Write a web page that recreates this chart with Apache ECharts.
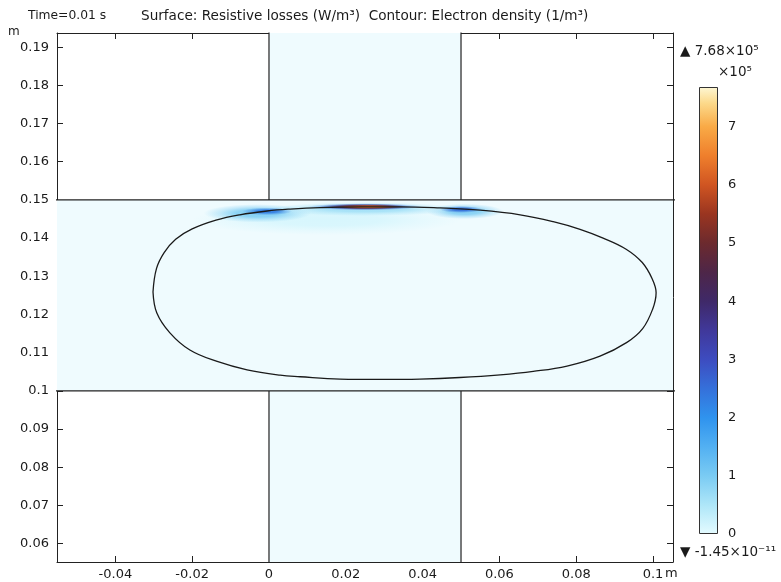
<!DOCTYPE html>
<html><head><meta charset="utf-8">
<script src="https://cdn.jsdelivr.net/npm/echarts@6/dist/echarts.min.js"></script>
<style>html,body{margin:0;padding:0;background:#fff}#c{width:781px;height:582px}</style>
</head><body><div id="c"></div>
<script>
// ---------- data ----------
const xRange = [-0.0552, 0.1052];          // m
const yRange = [0.0552, 0.1937];           // m
const colorRange = [0, 7.68];              // ×10^5 W/m^3
const colorbarTicks = [0, 1, 2, 3, 4, 5, 6, 7];
const maxLabel = '7.68×10⁵';
const minLabel = '-1.45×10⁻¹¹';
const scaleLabel = '×10⁵';
const titleTime = 'Time=0.01 s';
const titleMain = 'Surface: Resistive losses (W/m³)  Contour: Electron density (1/m³)';

// geometry domains [x0, y0, x1, y1]
const domainRects = [
  [-0.06, 0.10, 0.11, 0.15],
  [0.00, 0.05, 0.05, 0.20]
];
// boundary segments
const boundarySegments = [
  [[-0.06, 0.10], [0.11, 0.10]],
  [[-0.06, 0.15], [0.11, 0.15]],
  [[0.00, 0.15], [0.00, 0.20]],
  [[0.05, 0.15], [0.05, 0.20]],
  [[0.00, 0.05], [0.00, 0.10]],
  [[0.05, 0.05], [0.05, 0.10]]
];
// electron density contour
const contourPoints = [
  [-0.0302, 0.1259], [-0.0293, 0.1320], [-0.0273, 0.1362], [-0.0243, 0.1397],
  [-0.0200, 0.1424], [-0.0138, 0.1447], [-0.0076, 0.1461], [-0.0005, 0.1471],
  [0.0055, 0.1476], [0.0133, 0.1480], [0.0237, 0.1482], [0.0341, 0.1482],
  [0.0445, 0.1479], [0.0550, 0.1473], [0.0654, 0.1461], [0.0740, 0.1443],
  [0.0810, 0.1423], [0.0870, 0.1400], [0.0930, 0.1371], [0.0972, 0.1336],
  [0.0998, 0.1293], [0.1008, 0.1257], [0.0999, 0.1214], [0.0973, 0.1163],
  [0.0932, 0.1127], [0.0862, 0.1091], [0.0776, 0.1065], [0.0688, 0.1051],
  [0.0602, 0.1042], [0.0497, 0.1035], [0.0393, 0.1031], [0.0289, 0.1030],
  [0.0185, 0.1031], [0.0081, 0.1037], [0.0029, 0.1041], [-0.0057, 0.1055],
  [-0.0135, 0.1077], [-0.0206, 0.1107], [-0.0258, 0.1152], [-0.0292, 0.1204],
  [-0.0302, 0.1259]
];
// resistive-loss hot spots: [xCenter, yCenter, xHalfWidth, yHalfWidth, peak (×10^5 W/m^3)]
const lossBlobs = [
  [0.015, 0.1448, 0.035, 0.0040, 0.12],
  [-0.003, 0.1465, 0.014, 0.0024, 0.9],
  [0.051, 0.1470, 0.010, 0.0020, 0.9],
  [0.025, 0.1476, 0.025, 0.0018, 0.6],
  [-0.0005, 0.1470, 0.0065, 0.0010, 2.3],
  [0.050, 0.1475, 0.0055, 0.0009, 2.5],
  [0.025, 0.1482, 0.015, 0.0009, 2.5],
  [0.025, 0.1482, 0.012, 0.0008, 4.0],
  [0.0255, 0.1482, 0.010, 0.0006, 5.4],
  [0.026, 0.1482, 0.0075, 0.00045, 6.4]
];
// colour map (value ×10^5 → colour)
const cmapValues = [0, 0.5, 1, 1.5, 2, 2.5, 3, 3.5, 4, 4.5, 5, 5.5, 6, 6.5, 7, 7.4, 7.68];
const cmapColors = ['#e4fbff', '#aee6f8', '#7acbf3', '#52b0f2', '#2f93ee', '#3570da', '#3d4cc0',
  '#40389a', '#3f2968', '#4e2648', '#6c2a2e', '#9a3520', '#d05522', '#ef7f2c', '#f9aa46', '#fcd98a', '#fdf7d4'];

// ---------- helpers ----------
const FONT = 'DejaVu Sans';
const TXT = '#1a1a1a';
function hex2rgb(h) { const n = parseInt(h.slice(1), 16); return [(n >> 16) & 255, (n >> 8) & 255, n & 255]; }
function cmap(v, a) {
  let i = 0;
  while (i < cmapValues.length - 2 && v > cmapValues[i + 1]) i++;
  const t = Math.max(0, Math.min(1, (v - cmapValues[i]) / (cmapValues[i + 1] - cmapValues[i])));
  const c0 = hex2rgb(cmapColors[i]), c1 = hex2rgb(cmapColors[i + 1]);
  const c = c0.map((c, k) => Math.round(c + (c1[k] - c) * t));
  return 'rgba(' + c.join(',') + ',' + a + ')';
}
const gradStops = cmapValues.map((v, i) => ({ offset: v / colorRange[1], color: cmapColors[i] }));

const axisLineStyle = { color: '#222', width: 1 };
function mainX(pos, showLabel) {
  return {
    type: 'value', gridIndex: 0, position: pos, min: xRange[0], max: xRange[1], splitNumber: 8,
    axisLine: { show: true, onZero: false, lineStyle: axisLineStyle },
    axisTick: { show: true, inside: true, length: 6, lineStyle: axisLineStyle },
    axisLabel: { show: showLabel, showMinLabel: false, showMaxLabel: false, margin: 6,
      color: TXT, fontFamily: FONT, fontSize: 13 },
    splitLine: { show: false }
  };
}
function mainY(pos, showLabel) {
  return {
    type: 'value', gridIndex: 0, position: pos, min: yRange[0], max: yRange[1], splitNumber: 14,
    axisLine: { show: true, onZero: false, lineStyle: axisLineStyle },
    axisTick: { show: true, inside: true, length: 6, lineStyle: axisLineStyle },
    axisLabel: { show: showLabel, showMinLabel: false, showMaxLabel: false, margin: 8,
      color: TXT, fontFamily: FONT, fontSize: 13 },
    splitLine: { show: false }
  };
}

const series = [];
series.push({
  type: 'custom', xAxisIndex: 0, yAxisIndex: 0, clip: true, z: 1, silent: true,
  data: domainRects, encode: { x: [0, 2], y: [1, 3] },
  renderItem: function (params, api) {
    const p0 = api.coord([api.value(0), api.value(3)]);
    const p1 = api.coord([api.value(2), api.value(1)]);
    return { type: 'rect', shape: { x: p0[0], y: p0[1], width: p1[0] - p0[0], height: p1[1] - p0[1] },
      style: { fill: '#effbfe' } };
  }
});
series.push({
  type: 'custom', xAxisIndex: 0, yAxisIndex: 0, clip: true, z: 2, silent: true,
  data: lossBlobs, encode: { x: 0, y: 1 },
  renderItem: function (params, api) {
    const c = api.coord([api.value(0), api.value(1)]);
    const s = api.size([api.value(2), api.value(3)]);
    const v = api.value(4);
    const r = Math.max(s[0], 0.5);
    return {
      type: 'circle', x: c[0], y: c[1], scaleX: 1, scaleY: s[1] / r,
      shape: { cx: 0, cy: 0, r: r },
      style: { fill: { type: 'radial', x: 0.5, y: 0.5, r: 0.5, colorStops: [
        { offset: 0, color: cmap(v, 1) }, { offset: 0.4, color: cmap(v, 0.9) },
        { offset: 0.7, color: cmap(v, 0.4) }, { offset: 1, color: cmap(v, 0) }] } }
    };
  }
});
boundarySegments.forEach(function (seg) {
  series.push({ type: 'line', xAxisIndex: 0, yAxisIndex: 0, data: seg, symbol: 'none', clip: true, z: 3,
    silent: true, lineStyle: { color: '#222', width: 1.2 } });
});
series.push({ type: 'line', xAxisIndex: 0, yAxisIndex: 0, data: contourPoints, symbol: 'none', smooth: 0.4,
  clip: true, z: 4, silent: true, lineStyle: { color: '#1a1a1a', width: 1.3 } });
// colour bar
series.push({ type: 'bar', xAxisIndex: 2, yAxisIndex: 2, data: [colorRange[1]], barWidth: '100%', silent: true,
  itemStyle: { borderColor: '#333', borderWidth: 1,
    color: { type: 'linear', x: 0, y: 1, x2: 0, y2: 0, colorStops: gradStops } } });

const option = {
  animation: false,
  backgroundColor: '#fff',
  grid: [
    { left: 57, top: 33, width: 616, height: 529 },
    { left: 699, top: 87, width: 19, height: 447 }
  ],
  xAxis: [
    mainX('bottom', true), mainX('top', false),
    { type: 'category', gridIndex: 1, data: ['c'], show: false }
  ],
  yAxis: [
    mainY('left', true), mainY('right', false),
    { type: 'value', gridIndex: 1, position: 'right', min: colorRange[0], max: colorRange[1], interval: 1,
      axisLine: { show: false }, splitLine: { show: false },
      axisTick: { show: true, inside: true, length: 3, lineStyle: { color: '#222' },
        customValues: colorbarTicks.slice(1) },
      axisLabel: { show: true, margin: 10, color: TXT, fontFamily: FONT, fontSize: 13, customValues: colorbarTicks } },
    { type: 'value', gridIndex: 1, position: 'left', min: colorRange[0], max: colorRange[1], interval: 1,
      axisLine: { show: false }, splitLine: { show: false }, axisLabel: { show: false },
      axisTick: { show: true, inside: true, length: 3, lineStyle: { color: '#222' },
        customValues: colorbarTicks.slice(1) } }
  ],
  series: series,
  graphic: [
    { type: 'text', left: 28, top: 10, style: { text: titleTime, font: '12.3px "DejaVu Sans"', fill: TXT } },
    { type: 'text', left: 141, top: 9, style: { text: titleMain, font: '13.6px "DejaVu Sans"', fill: TXT } },
    { type: 'text', left: 8, top: 26, style: { text: 'm', font: '12px "DejaVu Sans"', fill: TXT } },
    { type: 'text', left: 665, top: 567, style: { text: 'm', font: '13px "DejaVu Sans"', fill: TXT } },
    { type: 'text', left: 680, top: 44, style: { text: '▲ ' + maxLabel, font: '13.5px "DejaVu Sans"', fill: TXT } },
    { type: 'text', left: 718, top: 65, style: { text: scaleLabel, font: '13.5px "DejaVu Sans"', fill: TXT } },
    { type: 'text', left: 680, top: 545, style: { text: '▼ ' + minLabel, font: '13.5px "DejaVu Sans"', fill: TXT } }
  ]
};
const chart = echarts.init(document.getElementById('c'), null, { renderer: 'canvas' });
chart.setOption(option);
</script></body></html>
